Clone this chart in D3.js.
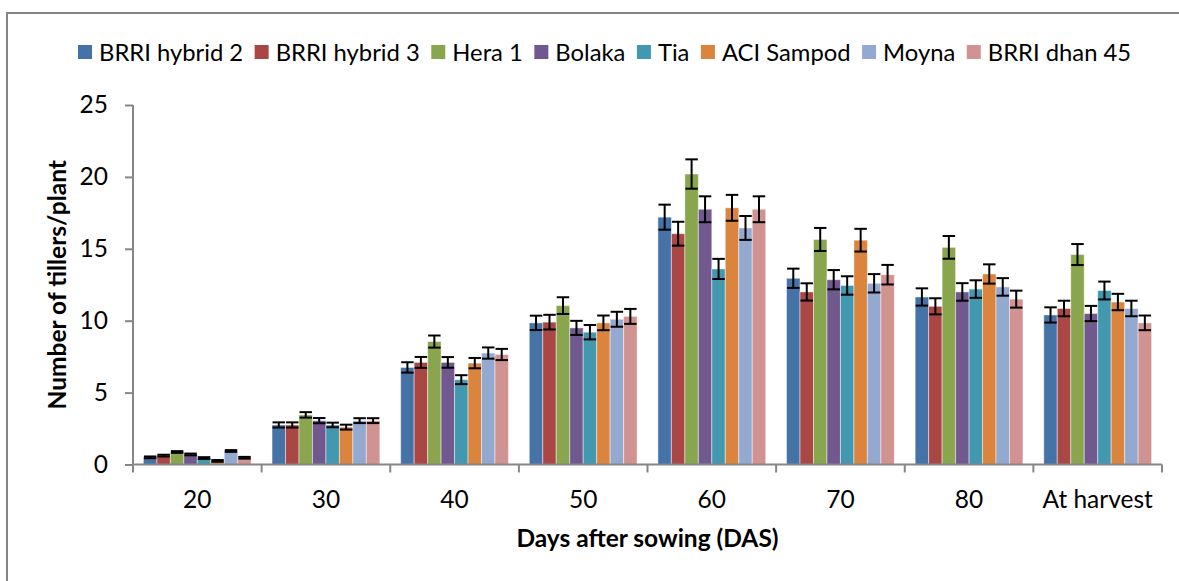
<!DOCTYPE html>
<html>
<head>
<meta charset="utf-8">
<script src="https://cdn.jsdelivr.net/npm/d3@7"></script>
<style>
  body { margin: 0; background: #fff; overflow: hidden; }
  svg { display: block; }
  text { font-family: Lato, "Open Sans", sans-serif; fill: #000; }
</style>
</head>
<body>
<div class="chart"></div>
<script>
var categories = ["20", "30", "40", "50", "60", "70", "80", "At harvest"];
var seriesNames = ["BRRI hybrid 2", "BRRI hybrid 3", "Hera 1", "Bolaka", "Tia", "ACI Sampod", "Moyna", "BRRI dhan 45"];
var colors = ["#4572A7", "#AA4643", "#89A54E", "#71588F", "#4198AF", "#DB843D", "#93A9CF", "#D19392"];

// tillers per plant, one array per variety
var hybrid2 = [0.50, 2.75, 6.75, 9.85, 17.20, 12.95, 11.65, 10.40];
var hybrid3 = [0.62, 2.75, 7.10, 9.90, 16.05, 12.00, 11.00, 10.85];
var hera1   = [0.87, 3.45, 8.55, 11.05, 20.20, 15.65, 15.10, 14.60];
var bolaka  = [0.70, 3.05, 7.10, 9.50, 17.75, 12.85, 12.00, 10.50];
var tia     = [0.45, 2.75, 5.90, 9.20, 13.60, 12.45, 12.20, 12.10];
var sampod  = [0.25, 2.60, 7.05, 9.85, 17.85, 15.60, 13.25, 11.30];
var moyna   = [0.94, 3.05, 7.75, 10.10, 16.45, 12.60, 12.35, 10.85];
var dhan45  = [0.47, 3.05, 7.65, 10.30, 17.75, 13.20, 11.50, 9.85];

// error bar half-lengths
var err2   = [0.06, 0.18, 0.36, 0.50, 0.87, 0.67, 0.60, 0.53];
var err3   = [0.06, 0.18, 0.38, 0.51, 0.83, 0.60, 0.56, 0.54];
var errH   = [0.06, 0.19, 0.42, 0.58, 1.02, 0.80, 0.79, 0.73];
var errB   = [0.06, 0.18, 0.37, 0.49, 0.90, 0.67, 0.61, 0.53];
var errT   = [0.06, 0.16, 0.31, 0.50, 0.70, 0.64, 0.61, 0.62];
var errS   = [0.06, 0.17, 0.36, 0.51, 0.90, 0.79, 0.67, 0.57];
var errM   = [0.06, 0.17, 0.39, 0.52, 0.83, 0.64, 0.61, 0.54];
var errD   = [0.06, 0.17, 0.39, 0.52, 0.90, 0.68, 0.59, 0.51];

var yTicks = [0, 5, 10, 15, 20, 25];

var values = [hybrid2, hybrid3, hera1, bolaka, tia, sampod, moyna, dhan45];
var errors = [err2, err3, errH, errB, errT, errS, errM, errD];

var width = 1179, height = 581;
var plotLeft = 133, plotRight = 1162, plotTop = 105, plotBottom = 464.5;
var axisColor = "#868686";

var svg = d3.select(".chart").append("svg")
    .attr("width", width)
    .attr("height", height);

// outer chart border (right and bottom run off the picture)
svg.append("path")
    .attr("d", "M7," + (height + 5) + "V13H" + (width + 5))
    .attr("fill", "none")
    .attr("stroke", axisColor)
    .attr("stroke-width", 2);

var x0 = d3.scaleBand().domain(categories).range([plotLeft, plotRight]);
var gap = x0.bandwidth() * 0.081;
var x1 = d3.scaleBand().domain(seriesNames).range([gap, x0.bandwidth() - gap]);
var y = d3.scaleLinear().domain([0, 25]).range([plotBottom, plotTop]);

var data = [];
categories.forEach(function(c, i) {
  seriesNames.forEach(function(s, j) {
    data.push({cat: c, name: s, color: colors[j], v: values[j][i], e: errors[j][i]});
  });
});

svg.selectAll("rect.bar")
    .data(data)
    .enter()
    .append("rect")
    .attr("class", "bar")
    .attr("x", function(d) { return x0(d.cat) + x1(d.name); })
    .attr("y", function(d) { return y(d.v); })
    .attr("width", x1.bandwidth())
    .attr("height", function(d) { return y(0) - y(d.v); })
    .attr("fill", function(d) { return d.color; })
    .attr("stroke", "#fff")
    .attr("stroke-opacity", 0.45)
    .attr("stroke-width", 1);

// error bars
var eb = svg.selectAll("g.err")
    .data(data)
    .enter()
    .append("g")
    .attr("class", "err")
    .attr("stroke", "#000")
    .attr("stroke-width", 2);

eb.append("line")
    .attr("x1", function(d) { return x0(d.cat) + x1(d.name) + x1.bandwidth() / 2; })
    .attr("x2", function(d) { return x0(d.cat) + x1(d.name) + x1.bandwidth() / 2; })
    .attr("y1", function(d) { return y(d.v + d.e); })
    .attr("y2", function(d) { return y(d.v - d.e); });

[1, -1].forEach(function(sign) {
  eb.append("line")
    .attr("x1", function(d) { return x0(d.cat) + x1(d.name) + 0.5; })
    .attr("x2", function(d) { return x0(d.cat) + x1(d.name) + x1.bandwidth() - 0.5; })
    .attr("y1", function(d) { return y(d.v + sign * d.e); })
    .attr("y2", function(d) { return y(d.v + sign * d.e); });
});

// y axis
var yAxis = svg.append("g")
    .attr("transform", "translate(" + plotLeft + ",0)")
    .call(d3.axisLeft(y).tickValues(yTicks).tickSize(8).tickPadding(17));
yAxis.selectAll("line, path").attr("stroke", axisColor).attr("stroke-width", 2);
yAxis.select("path").attr("d", "M0," + plotTop + "V" + plotBottom);
yAxis.selectAll("text").attr("font-size", "24.5px").attr("font-family", "Lato");

// x axis with ticks on band boundaries
var xAxis = svg.append("g")
    .attr("transform", "translate(0," + plotBottom + ")")
    .call(d3.axisBottom(x0).tickSize(0).tickPadding(26));
xAxis.select("path").attr("d", "M" + plotLeft + ",0H" + plotRight).attr("stroke", axisColor).attr("stroke-width", 2);
xAxis.selectAll("text").attr("font-size", "24.5px").attr("font-family", "Lato");
var bounds = categories.map(function(c) { return x0(c); }).concat([plotRight]);
xAxis.selectAll("line.bound")
    .data(bounds)
    .enter()
    .append("line")
    .attr("class", "bound")
    .attr("x1", function(d) { return d; })
    .attr("x2", function(d) { return d; })
    .attr("y1", 0).attr("y2", 8)
    .attr("stroke", axisColor)
    .attr("stroke-width", 2);

// axis titles
svg.append("text")
    .attr("x", (plotLeft + plotRight) / 2)
    .attr("y", 547)
    .attr("text-anchor", "middle")
    .attr("font-size", "24.5px")
    .attr("font-weight", "bold")
    .text("Days after sowing (DAS)");

svg.append("text")
    .attr("transform", "translate(66," + (plotTop + plotBottom) / 2 + ") rotate(-90)")
    .attr("text-anchor", "middle")
    .attr("font-size", "24.5px")
    .attr("font-weight", "bold")
    .text("Number of tillers/plant");

// legend
var legend = svg.append("g").attr("transform", "translate(0,52)");
var lx = 78;
seriesNames.forEach(function(s, j) {
  legend.append("rect")
    .attr("x", lx).attr("y", -7)
    .attr("width", 14).attr("height", 14)
    .attr("fill", colors[j]);
  var t = legend.append("text")
    .attr("x", lx + 21)
    .attr("y", 8.5)
    .attr("font-size", "23.8px")
    .text(s);
  lx += 21 + t.node().getComputedTextLength() + 11.5;
});
</script>
</body>
</html>
